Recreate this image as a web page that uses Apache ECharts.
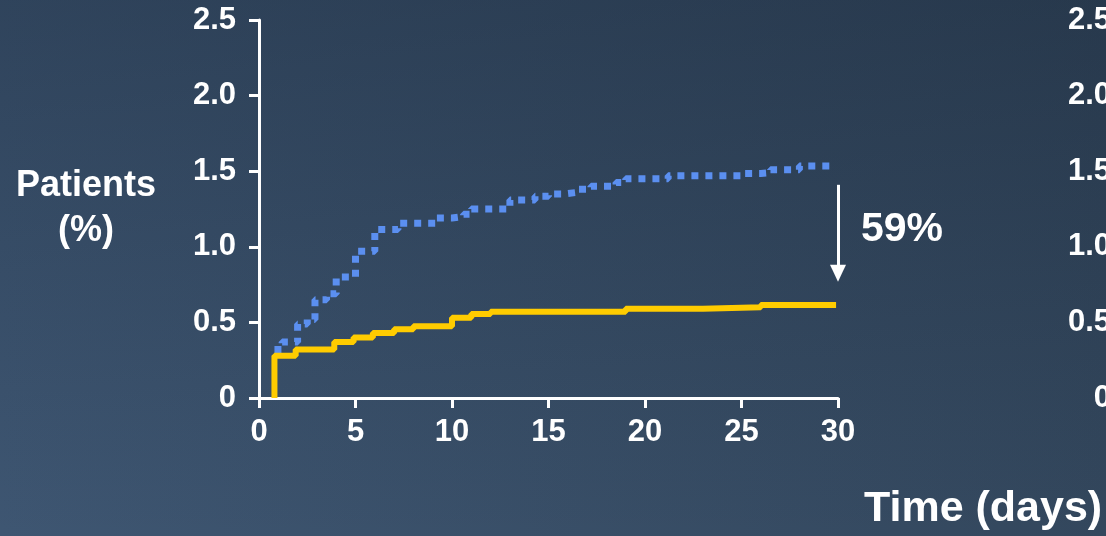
<!DOCTYPE html>
<html>
<head>
<meta charset="utf-8">
<title>Patients (%) over time</title>
<script src="https://cdn.jsdelivr.net/npm/echarts@6/dist/echarts.min.js"></script>
<style>
  html, body { margin: 0; padding: 0; }
  #chart { width: 1106px; height: 536px; }
</style>
</head>
<body>
<div id="chart"></div>
<script>
// [day, % of patients], step curves
var blueSteps = [
  [0.8, 0.32], [1.2, 0.37], [2.0, 0.49], [2.5, 0.52], [2.9, 0.65],
  [3.5, 0.69], [4.0, 0.80], [5.0, 0.97], [6.0, 1.115], [7.2, 1.155],
  [9.2, 1.19], [10.0, 1.20], [10.6, 1.215], [11.0, 1.25], [13.0, 1.31],
  [14.3, 1.335], [15.0, 1.35], [15.8, 1.36], [16.5, 1.38], [17.2, 1.40],
  [18.5, 1.425], [19.0, 1.45], [21.2, 1.47], [25.0, 1.485], [26.0, 1.49],
  [26.5, 1.51], [28.0, 1.535], [29.7, 1.54]
]
var yellowSteps = [
  [0.8, 0], [0.8, 0.28], [1.9, 0.32], [3.9, 0.37], [4.9, 0.40],
  [5.9, 0.43], [7.0, 0.455], [8.0, 0.475], [10.0, 0.53], [11.0, 0.555],
  [12.0, 0.57], [19.0, 0.59], [23.0, 0.60], [26.0, 0.615], [29.9, 0.615]
]
var xTicks = { min: 0, max: 30, step: 5 }
var yTicks = { min: 0, max: 2.5, step: 0.5 }
// arrow between the two curves at day 30
var arrowFrom = [30, 1.41]
var arrowTo = [30, 0.825]
var reductionText = '59%'
var xTitle = 'Time (days)'
var yTitle = 'Patients\n(%)'

var FONT = "'Liberation Sans', Arial, sans-serif"
var white = '#ffffff'

function yLabel(v) {
  return v === 0 ? '0' : v.toFixed(1)
}

var chart = echarts.init(document.getElementById('chart'))
chart.setOption({
  backgroundColor: new echarts.graphic.LinearGradient(0, 0, 1, 0, [
    { offset: 0, color: '#3e5672' },
    { offset: 1, color: '#33475d' }
  ]),
  animation: false,
  grid: [
    { left: 259, top: 20, width: 579, bottom: 138 },
    // second panel, almost entirely off the right edge
    { left: 1134, top: 20, width: 300, bottom: 138 }
  ],
  xAxis: [
    {
      type: 'value',
      min: xTicks.min,
      max: xTicks.max,
      interval: xTicks.step,
      splitLine: { show: false },
      axisLine: { lineStyle: { color: white, width: 3 } },
      axisTick: { length: 10, lineStyle: { color: white, width: 3 } },
      axisLabel: {
        color: white, fontSize: 31, fontWeight: 'bold', fontFamily: FONT, margin: 19
      }
    },
    { gridIndex: 1, type: 'value', min: 0, max: 30, show: false }
  ],
  yAxis: [
    {
      type: 'value',
      min: yTicks.min,
      max: yTicks.max,
      interval: yTicks.step,
      splitLine: { show: false },
      axisLine: { show: true, lineStyle: { color: white, width: 3 } },
      axisTick: { show: true, length: 10, lineStyle: { color: white, width: 3 } },
      axisLabel: {
        color: white, fontSize: 31, fontWeight: 'bold', fontFamily: FONT,
        margin: 23, padding: [5, 0, 0, 0], formatter: yLabel
      },
      name: yTitle,
      nameLocation: 'middle',
      nameRotate: 0,
      nameGap: 173,
      nameTextStyle: {
        color: white, fontSize: 36, fontWeight: 'bold', fontFamily: FONT,
        lineHeight: 45, align: 'center'
      }
    },
    {
      gridIndex: 1,
      type: 'value',
      min: yTicks.min,
      max: yTicks.max,
      interval: yTicks.step,
      splitLine: { show: false },
      axisLine: { show: false },
      axisTick: { show: false },
      axisLabel: {
        color: white, fontSize: 31, fontWeight: 'bold', fontFamily: FONT,
        margin: 23, padding: [5, 0, 0, 0], formatter: yLabel
      }
    }
  ],
  series: [
    {
      name: 'blue',
      type: 'line',
      step: 'end',
      data: blueSteps,
      showSymbol: false,
      lineStyle: { color: '#5b8ff0', width: 7, type: [7, 7], cap: 'butt' },
      z: 2
    },
    {
      name: 'yellow',
      type: 'line',
      step: 'end',
      data: yellowSteps,
      showSymbol: false,
      clip: false,
      lineStyle: { color: '#ffcc00', width: 6 },
      z: 3,
      markLine: {
        silent: true,
        animation: false,
        symbol: ['none', 'triangle'],
        symbolSize: [16, 17],
        symbolRotate: 180,
        label: { show: false },
        lineStyle: { color: white, width: 3, type: 'solid' },
        data: [[{ coord: arrowFrom }, { coord: arrowTo }]]
      }
    }
  ],
  graphic: [
    {
      // darker toward the top of the slide
      type: 'rect',
      silent: true,
      z: -1,
      shape: { x: 0, y: 0, width: 1106, height: 536 },
      style: {
        fill: new echarts.graphic.LinearGradient(0, 0, 0, 1, [
          { offset: 0, color: 'rgba(8,18,32,0.27)' },
          { offset: 1, color: 'rgba(8,18,32,0)' }
        ])
      }
    },
    {
      type: 'text',
      left: 861,
      top: 209,
      style: {
        text: reductionText, fill: white,
        font: 'bold 41px ' + FONT
      }
    },
    {
      type: 'text',
      left: 864,
      top: 488,
      style: {
        text: xTitle, fill: white,
        font: 'bold 43px ' + FONT
      }
    }
  ]
})

window.addEventListener('resize', function() {
  chart.resize()
})
</script>
</body>
</html>
